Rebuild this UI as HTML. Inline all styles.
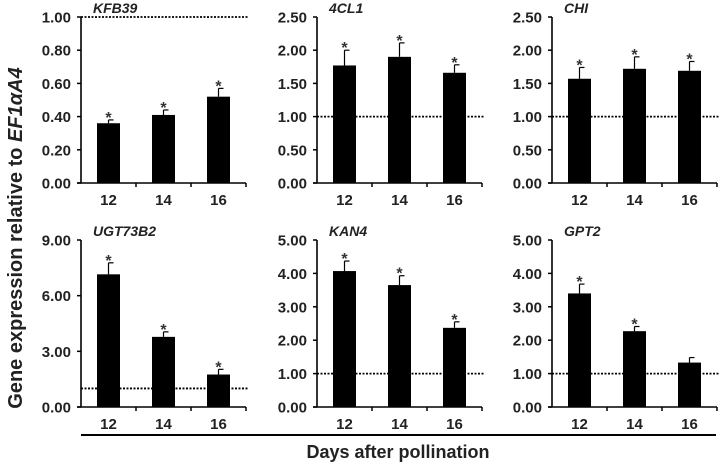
<!DOCTYPE html>
<html><head><meta charset="utf-8"><style>
html,body{margin:0;padding:0;background:#fff;}
svg{display:block;font-family:"Liberation Sans",Arial,sans-serif;}
</style></head><body>
<svg id="fig" width="722" height="468" viewBox="0 0 722 468"></svg>
<script>
const categories = ["12","14","16"];
const genes = ["KFB39","4CL1","CHI","UGT73B2","KAN4","GPT2"];
const yMax = [1,2.5,2.5,9,5,5];
const ticks = [
  ["0.00","0.20","0.40","0.60","0.80","1.00"],
  ["0.00","0.50","1.00","1.50","2.00","2.50"],
  ["0.00","0.50","1.00","1.50","2.00","2.50"],
  ["0.00","3.00","6.00","9.00"],
  ["0.00","1.00","2.00","3.00","4.00","5.00"],
  ["0.00","1.00","2.00","3.00","4.00","5.00"]
];
const kfb39Values = [0.36,0.41,0.52];
const cl1Values = [1.77,1.90,1.66];
const chiValues = [1.57,1.72,1.69];
const ugtValues = [7.15,3.78,1.75];
const kan4Values = [4.07,3.65,2.37];
const gpt2Values = [3.40,2.27,1.33];
const kfb39Err = [0.02,0.03,0.05];
const cl1Err = [0.23,0.21,0.12];
const chiErr = [0.17,0.18,0.14];
const ugtErr = [0.62,0.27,0.28];
const kan4Err = [0.30,0.28,0.18];
const gpt2Err = [0.28,0.14,0.15];
const sigStars = [[1,1,1],[1,1,1],[1,1,1],[1,1,1],[1,1,1],[1,1,0]];
const refLevel = 1;

const values=[kfb39Values,cl1Values,chiValues,ugtValues,kan4Values,gpt2Values];
const errs=[kfb39Err,cl1Err,chiErr,ugtErr,kan4Err,gpt2Err];
const NS="http://www.w3.org/2000/svg";
const svg=document.getElementById('fig');
function mk(tag,attrs,parent){const e=document.createElementNS(NS,tag);for(const k in attrs)e.setAttribute(k,attrs[k]);(parent||svg).appendChild(e);return e;}
const axX=[81,317,552], topY=[17,240], botY=[183,407], W=165;
for(let p=0;p<6;p++){
  const col=p%3,row=Math.floor(p/3);
  const x0=axX[col],y0=botY[row],y1=topY[row];
  const g=mk('g',{});
  
  
  const ys=v=>y0-(v/yMax[p])*(y0-y1);
  const cw=W/categories.length;
  const xc=i=>x0+cw*(i+0.5);
  const rl=mk('line',{x1:x0,x2:x0+W+2,y1:ys(refLevel),y2:ys(refLevel),stroke:'#000','stroke-width':1.8,'stroke-dasharray':'2,1.5'},g);
  
  
  values[p].forEach((v,i)=>{
    const bw=23;
    const er=errs[p][i];
    const el=mk('line',{x1:xc(i),x2:xc(i),y1:ys(v),y2:ys(v+er),stroke:'#000','stroke-width':1.2},g);
    
    
    mk('line',{x1:xc(i),x2:xc(i)+5,y1:ys(v+er),y2:ys(v+er),stroke:'#000','stroke-width':1.2},g);
    const b=mk('rect',{x:xc(i)-bw/2,y:ys(v),width:bw,height:y0-ys(v),fill:'#000'},g);
    
    
    if(sigStars[p][i]){
      const s=mk('text',{x:xc(i),y:ys(v+er)+3,'text-anchor':'middle','font-size':16,'font-weight':'bold',fill:'#333'},g);
      s.textContent='*';
      
      
    }
    const t=mk('text',{x:xc(i),y:y0+22,'text-anchor':'middle','font-size':15,'font-weight':'bold',fill:'#222'},g);
    t.textContent=categories[i];
    
    
  });
  mk('line',{x1:x0,x2:x0,y1:y1,y2:y0,stroke:'#000','stroke-width':1.6},g);
  mk('line',{x1:x0-4,x2:x0+W,y1:y0,y2:y0,stroke:'#000','stroke-width':1.6},g);
  for(let i=1;i<=categories.length;i++) mk('line',{x1:x0+cw*i,x2:x0+cw*i,y1:y0,y2:y0+4,stroke:'#000','stroke-width':1.5},g);
  ticks[p].forEach(tl=>{
    const v=parseFloat(tl);
    mk('line',{x1:x0-4,x2:x0,y1:ys(v),y2:ys(v),stroke:'#000','stroke-width':1.5},g);
    const t=mk('text',{x:x0-10,y:ys(v)+5.5,'text-anchor':'end','font-size':15,'font-weight':'bold',fill:'#222'},g);
    t.textContent=tl;
    
    
  });
  const ti=mk('text',{x:x0+12,y:y1-4,'font-size':14,'font-weight':'bold','font-style':'italic',fill:'#222'},g);
  ti.textContent=genes[p];
  
  
}
const bl=mk('line',{x1:81,x2:716,y1:435,y2:435,stroke:'#000','stroke-width':2});


const xt=mk('text',{x:398,y:458,'text-anchor':'middle','font-size':18,'font-weight':'bold',fill:'#222'});
xt.textContent='Days after pollination';


const yt=mk('text',{x:0,y:0,'text-anchor':'middle','font-size':20,'font-weight':'bold',fill:'#222',transform:'translate(22,238) rotate(-90)'});


yt.innerHTML='Gene expression relative to <tspan font-style="italic">EF1αA4</tspan>';
</script>
</body></html>
